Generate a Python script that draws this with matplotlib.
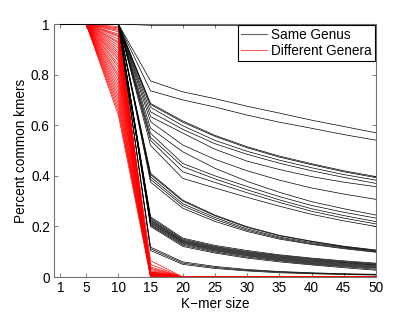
import matplotlib
matplotlib.use("Agg")
import matplotlib.pyplot as plt

plt.rcParams['font.family'] = ['Liberation Sans', 'DejaVu Sans']

kmer = [1, 5, 10, 15, 20, 25, 30, 35, 40, 45, 50]
xtick_labels = ['1', '5', '10', '15', '20', '25', '30', '35', '40', '45', '50']
yticks = [0, 0.2, 0.4, 0.6, 0.8, 1.0]
ytick_labels = ['0', '0.2', '0.4', '0.6', '0.8', '1']

# Same genus: values at k = 15..50 (k = 1, 5, 10 are all 1)
same_head = [1.0, 1.0, 1.0]
same_top = [
    [0.995, 0.994, 0.994, 0.993, 0.993, 0.993, 0.992, 0.992],
]
same_upper = [
    [0.775, 0.732, 0.705, 0.675, 0.648, 0.620, 0.595, 0.570],
    [0.736, 0.700, 0.672, 0.640, 0.612, 0.588, 0.563, 0.541],
]
same_mid = [
    [0.686, 0.617, 0.560, 0.515, 0.478, 0.448, 0.420, 0.397],
    [0.682, 0.612, 0.556, 0.511, 0.474, 0.444, 0.416, 0.393],
    [0.671, 0.598, 0.540, 0.497, 0.462, 0.432, 0.405, 0.383],
    [0.653, 0.584, 0.527, 0.485, 0.450, 0.420, 0.394, 0.370],
    [0.634, 0.569, 0.505, 0.458, 0.425, 0.397, 0.375, 0.357],
    [0.614, 0.522, 0.465, 0.420, 0.383, 0.352, 0.328, 0.307],
]
same_lowmid = [
    [0.588, 0.495, 0.430, 0.378, 0.335, 0.298, 0.270, 0.245],
    [0.568, 0.449, 0.400, 0.358, 0.318, 0.283, 0.256, 0.233],
    [0.552, 0.436, 0.388, 0.345, 0.305, 0.270, 0.243, 0.219],
    [0.540, 0.416, 0.374, 0.333, 0.295, 0.260, 0.233, 0.210],
    [0.520, 0.390, 0.352, 0.315, 0.280, 0.248, 0.222, 0.200],
]
same_low = [
    [0.410, 0.304, 0.245, 0.199, 0.165, 0.142, 0.122, 0.107],
    [0.405, 0.300, 0.242, 0.196, 0.163, 0.140, 0.120, 0.105],
    [0.396, 0.290, 0.235, 0.190, 0.158, 0.136, 0.118, 0.103],
    [0.386, 0.282, 0.228, 0.185, 0.154, 0.132, 0.115, 0.100],
    [0.375, 0.272, 0.220, 0.180, 0.150, 0.129, 0.112, 0.098],
]
same_bundle = [
    [0.238, 0.154, 0.125, 0.105, 0.088, 0.075, 0.064, 0.055],
    [0.233, 0.150, 0.121, 0.101, 0.085, 0.072, 0.061, 0.052],
    [0.228, 0.146, 0.118, 0.098, 0.082, 0.069, 0.058, 0.049],
    [0.224, 0.143, 0.115, 0.095, 0.079, 0.066, 0.056, 0.047],
    [0.220, 0.140, 0.112, 0.092, 0.076, 0.063, 0.053, 0.044],
    [0.216, 0.137, 0.109, 0.089, 0.073, 0.060, 0.050, 0.041],
    [0.212, 0.134, 0.106, 0.086, 0.070, 0.057, 0.047, 0.038],
    [0.208, 0.130, 0.103, 0.083, 0.067, 0.054, 0.044, 0.035],
    [0.204, 0.126, 0.099, 0.079, 0.064, 0.051, 0.041, 0.031],
    [0.200, 0.121, 0.095, 0.075, 0.060, 0.048, 0.037, 0.027],
]
same_bottom = [
    [0.118, 0.060, 0.042, 0.030, 0.022, 0.017, 0.013, 0.011],
    [0.112, 0.055, 0.038, 0.027, 0.020, 0.015, 0.012, 0.009],
    [0.105, 0.050, 0.034, 0.024, 0.017, 0.013, 0.010, 0.008],
]

# Different genera: 1 at k = 1, 5; value at k = 10, value at k = 15, then 0
diff_k10 = [1.0, 1.0, 0.99, 0.985, 0.98, 0.975, 0.97, 0.96, 0.955, 0.95,
            0.94, 0.93, 0.925, 0.915, 0.905, 0.895, 0.885, 0.875, 0.865, 0.855,
            0.84, 0.83, 0.815, 0.80, 0.79, 0.775, 0.76, 0.745, 0.73, 0.715,
            0.70, 0.685, 0.67, 0.655, 0.64]
diff_k15 = [0.0, 0.005, 0.01, 0.0, 0.015, 0.02, 0.005, 0.065, 0.01, 0.0,
            0.05, 0.02, 0.0, 0.04, 0.01, 0.005, 0.025, 0.0, 0.015, 0.03,
            0.0, 0.01, 0.005, 0.02, 0.0, 0.035, 0.01, 0.0, 0.015, 0.005,
            0.0, 0.01, 0.0, 0.02, 0.0]
diff_tail = [0.0, 0.0, 0.0, 0.0, 0.0, 0.0, 0.0]

FS = 9.8

fig = plt.figure(figsize=(4.15, 3.12), dpi=100)
ax = fig.add_axes([0.13, 0.112, 0.776, 0.811])

for i, (a, b) in enumerate(zip(diff_k10, diff_k15)):
    ax.plot(kmer, [1.0, 1.0, a, b] + diff_tail, color='red', lw=0.5,
            zorder=2, label='Different Genera' if i == 0 else None)

groups = [same_top, same_upper, same_mid, same_lowmid, same_low, same_bundle, same_bottom]
first = True
for g in groups:
    for row in g:
        ax.plot(kmer, same_head + row, color='black', lw=0.5, zorder=3,
                label='Same Genus' if first else None)
        first = False

ax.set_xlim(0, 50)
ax.set_ylim(0, 1)
ax.set_xticks(kmer)
ax.set_xticklabels(xtick_labels)
ax.set_yticks(yticks)
ax.set_yticklabels(ytick_labels)
ax.tick_params(direction='in', length=3, width=0.6, color='0.4',
               labelsize=FS, top=True, right=True, pad=3)
for s in ax.spines.values():
    s.set_color('0.45')
    s.set_linewidth(0.8)
ax.set_xlabel('K\u2212mer size', fontsize=FS, labelpad=1)
ax.set_ylabel('Percent common kmers', fontsize=FS, labelpad=2)

handles, labels = ax.get_legend_handles_labels()
order = [labels.index('Same Genus'), labels.index('Different Genera')]
leg = ax.legend([handles[i] for i in order], [labels[i] for i in order],
                loc='upper right', fontsize=FS, frameon=True, fancybox=False,
                edgecolor='black', framealpha=1, borderaxespad=0.1,
                handlelength=1.9, handletextpad=0.3, borderpad=0.2,
                labelspacing=0.15)
leg.get_frame().set_linewidth(0.8)
lh = leg.get_lines()
lh[0].set_color('0.4')
lh[1].set_color('#ff6060')
for h in lh:
    h.set_linewidth(0.8)

fig.savefig('out.png', dpi=100)
